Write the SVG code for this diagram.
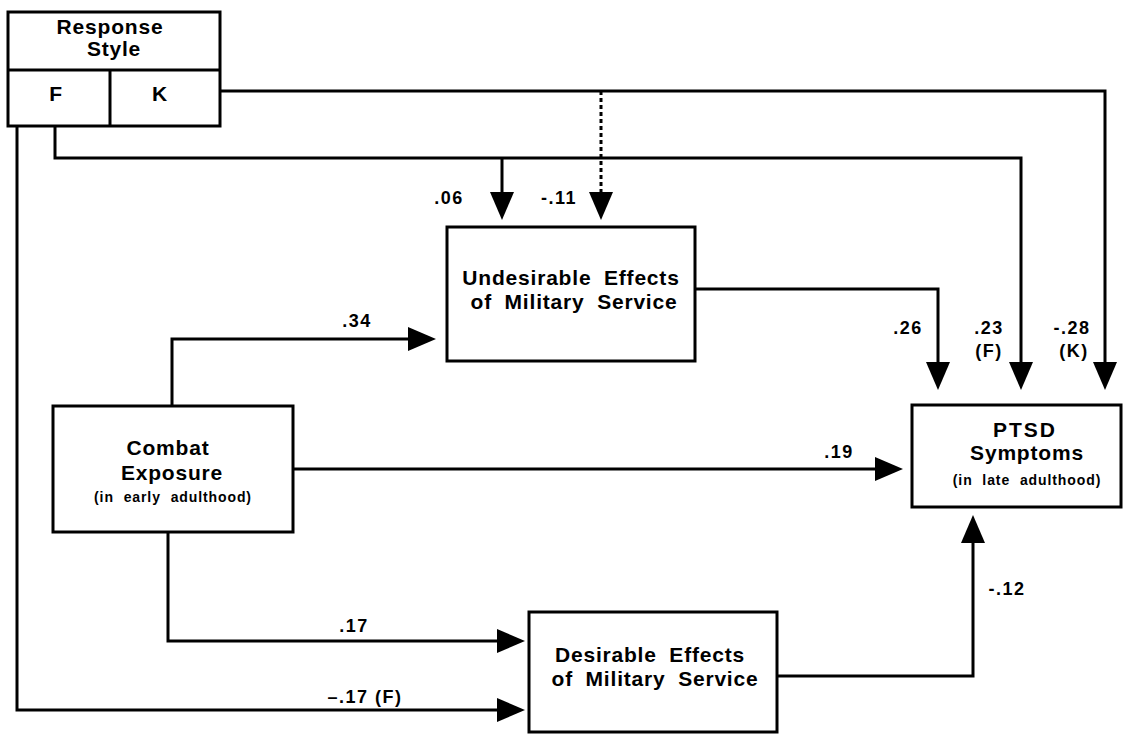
<svg xmlns="http://www.w3.org/2000/svg" width="1124" height="734" viewBox="0 0 1124 734">
<style>
.box{fill:#fff;stroke:#000;stroke-width:3}
.t{font-family:"Liberation Sans",Arial,sans-serif;font-weight:bold;font-size:21px;text-anchor:middle;fill:#000;letter-spacing:0.8px;word-spacing:6px}
.s{font-family:"Liberation Sans",Arial,sans-serif;font-weight:bold;font-size:14px;text-anchor:middle;fill:#000;letter-spacing:0.9px;word-spacing:5px}
.l{font-family:"Liberation Sans",Arial,sans-serif;font-weight:bold;font-size:18px;text-anchor:middle;fill:#000;letter-spacing:1.5px}
.c{fill:none;stroke:#000;stroke-width:3}
.d{fill:none;stroke:#000;stroke-width:3;stroke-dasharray:4 3}
</style>
<defs>
<marker id="ah" viewBox="0 0 28 24" refX="22" refY="12" markerWidth="28" markerHeight="24" markerUnits="userSpaceOnUse" orient="auto">
<path d="M0,0 L28,12 L0,24 z" fill="#000"/>
</marker>
</defs>
<g id="connectors">
<path class="c" d="M220,91 H1105 V384" marker-end="url(#ah)"/>
<path class="c" d="M55,126 V158 H1021 V384" marker-end="url(#ah)"/>
<path class="c" d="M502,158 V214" marker-end="url(#ah)"/>
<path class="d" d="M601,91 V214" marker-end="url(#ah)"/>
<path class="c" d="M17,126 V710 H519" marker-end="url(#ah)"/>
<path class="c" d="M172,406 V339 H430" marker-end="url(#ah)"/>
<path class="c" d="M695,289 H938 V384" marker-end="url(#ah)"/>
<path class="c" d="M293,469 H897" marker-end="url(#ah)"/>
<path class="c" d="M168,532 V641 H519" marker-end="url(#ah)"/>
<path class="c" d="M777,676 H973 V521" marker-end="url(#ah)"/>
<text class="l" x="449" y="204">.06</text>
<text class="l" x="559" y="204">-.11</text>
<text class="l" x="357" y="327">.34</text>
<text class="l" x="908" y="334">.26</text>
<text class="l" x="989" y="334">.23</text>
<text class="l" x="989" y="357">(F)</text>
<text class="l" x="1072" y="334">-.28</text>
<text class="l" x="1074" y="357">(K)</text>
<text class="l" x="839" y="458">.19</text>
<text class="l" x="354" y="632">.17</text>
<text class="l" x="365" y="703">–.17  (F)</text>
<text class="l" x="1007" y="595">-.12</text>
</g>
<g id="response-style">
<rect class="box" x="8" y="12" width="212" height="114"/>
<line class="c" x1="8" y1="70" x2="220" y2="70"/>
<line class="c" x1="110" y1="70" x2="110" y2="126"/>
<text class="t" x="110" y="34">Response</text>
<text class="t" x="114" y="56">Style</text>
<text class="t" x="56" y="101">F</text>
<text class="t" x="160" y="101">K</text>
</g>
<g id="undesirable">
<rect class="box" x="447" y="227" width="248" height="134"/>
<text class="t" x="571" y="285">Undesirable Effects</text>
<text class="t" x="574" y="309">of Military Service</text>
</g>
<g id="combat">
<rect class="box" x="53" y="406" width="240" height="126"/>
<text class="t" x="168" y="455">Combat</text>
<text class="t" x="172" y="480">Exposure</text>
<text class="s" x="173" y="502">(in early adulthood)</text>
</g>
<g id="ptsd">
<rect class="box" x="912" y="405" width="209" height="102"/>
<text class="t" x="1025" y="437" style="letter-spacing:2px">PTSD</text>
<text class="t" x="1027" y="460">Symptoms</text>
<text class="s" x="1027" y="485">(in late adulthood)</text>
</g>
<g id="desirable">
<rect class="box" x="529" y="612" width="248" height="120"/>
<text class="t" x="650" y="662">Desirable Effects</text>
<text class="t" x="655" y="686">of Military Service</text>
</g>
</svg>
